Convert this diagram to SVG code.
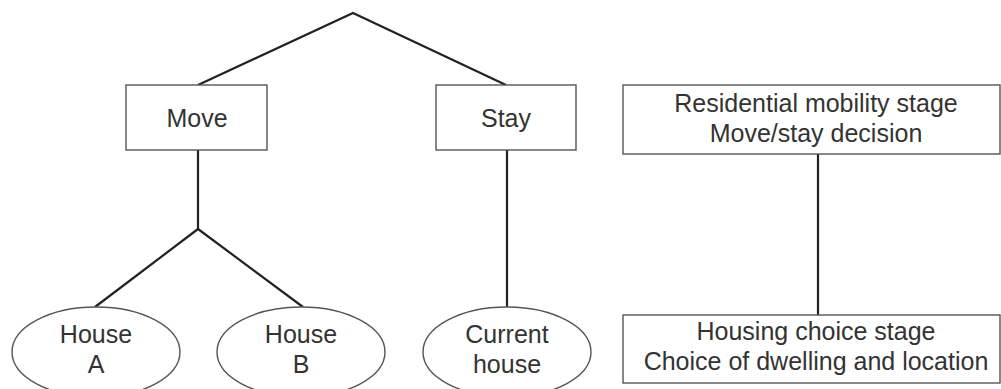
<svg xmlns="http://www.w3.org/2000/svg" width="1001" height="389" viewBox="0 0 1001 389">
<style>
.box{fill:#fff;stroke:#555;stroke-width:1.4}
.ell{fill:#fff;stroke:#555;stroke-width:1.4}
.t{font-family:"Liberation Sans",Arial,sans-serif;font-size:25px;fill:#333;text-anchor:middle}
.c{stroke:#222;stroke-width:2.2;fill:none}
</style>
<rect width="1001" height="389" fill="#fff"/>
<g id="connectors">
<polyline class="c" points="198,85 353,13 506,85"/>
<line class="c" x1="198" y1="150" x2="198" y2="229"/>
<polyline class="c" points="95,307 198,229 303,307"/>
<line class="c" x1="507" y1="150" x2="507" y2="307"/>
<line class="c" x1="818" y1="154" x2="818" y2="315"/>
</g>
<g id="move">
<rect class="box" x="126" y="85" width="141" height="65"/>
<text class="t" x="197" y="127">Move</text>
</g>
<g id="stay">
<rect class="box" x="436" y="85" width="140" height="65"/>
<text class="t" x="506" y="127">Stay</text>
</g>
<g id="houseA">
<ellipse class="ell" cx="96" cy="352" rx="84" ry="45"/>
<text class="t" x="96" y="343">House</text>
<text class="t" x="96" y="373">A</text>
</g>
<g id="houseB">
<ellipse class="ell" cx="301" cy="352" rx="84" ry="45"/>
<text class="t" x="301" y="343">House</text>
<text class="t" x="301" y="373">B</text>
</g>
<g id="current">
<ellipse class="ell" cx="507" cy="352" rx="84" ry="45"/>
<text class="t" x="507" y="343">Current</text>
<text class="t" x="507" y="373">house</text>
</g>
<g id="mobility">
<rect class="box" x="623" y="85" width="377" height="69"/>
<text class="t" x="816" y="112">Residential mobility stage</text>
<text class="t" x="816" y="142">Move/stay decision</text>
</g>
<g id="housing">
<rect class="box" x="623" y="315" width="377" height="68"/>
<text class="t" x="816" y="340">Housing choice stage</text>
<text class="t" x="816" y="370">Choice of dwelling and location</text>
</g>
</svg>
